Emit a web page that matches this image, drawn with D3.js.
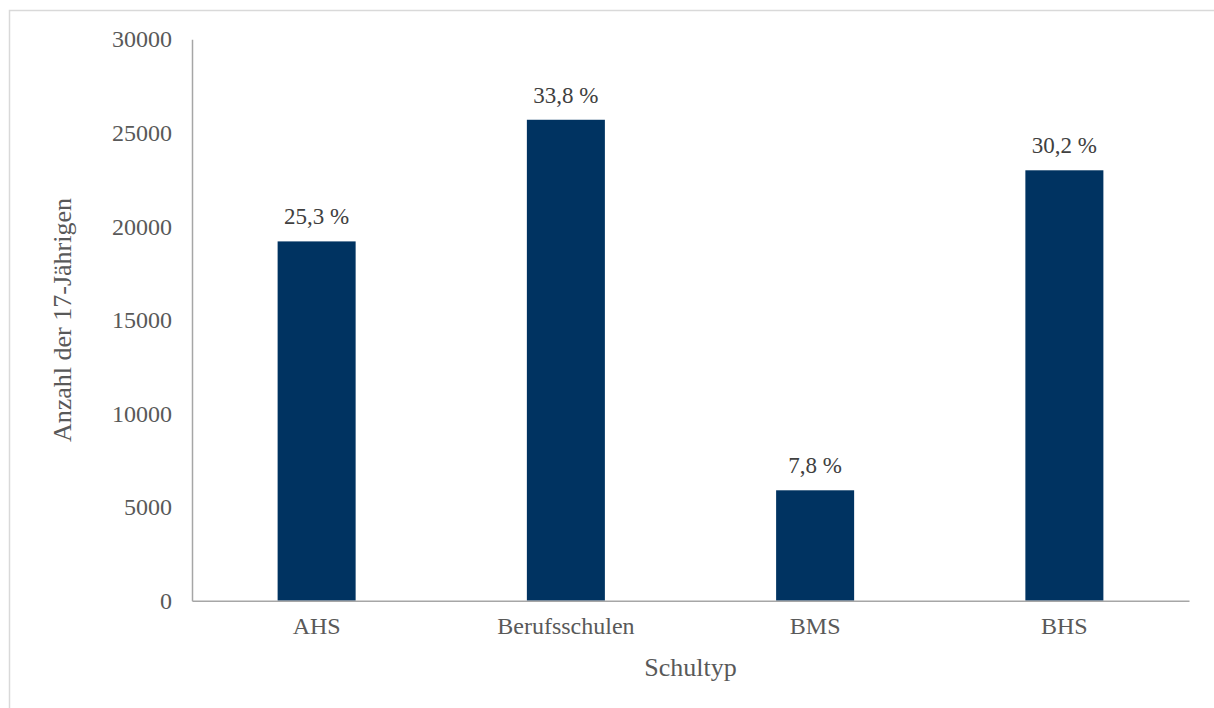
<!DOCTYPE html>
<html>
<head>
<meta charset="utf-8">
<script src="https://cdn.jsdelivr.net/npm/d3@7"></script>
<style>
  body { margin: 0; background: #fff; }
  text { font-family: "Liberation Serif", "Times New Roman", serif; }
</style>
</head>
<body>
<div id="chart"></div>
<script>
// data
var schultypen = ["AHS", "Berufsschulen", "BMS", "BHS"];
var anzahl = [19200, 25700, 5900, 23000];
var anteile = ["25,3 %", "33,8 %", "7,8 %", "30,2 %"];
var yTicks = [0, 5000, 10000, 15000, 20000, 25000, 30000];

var width = 1214,
  height = 708;
var margin = { top: 39.3, right: 25, bottom: 107.3, left: 192 };

var svg = d3
  .select("#chart")
  .append("svg")
  .attr("width", width)
  .attr("height", height);

// chart area border (runs off the bottom / right edge)
svg
  .append("rect")
  .attr("x", 9.5)
  .attr("y", 10.5)
  .attr("width", 1220)
  .attr("height", 720)
  .attr("fill", "none")
  .attr("stroke", "#d9d9d9")
  .attr("stroke-width", 1.5);

var x = d3
  .scaleBand()
  .domain(schultypen)
  .range([margin.left, width - margin.right])
  .paddingInner(0.687)
  .paddingOuter(0.3435);

var y = d3
  .scaleLinear()
  .domain([0, 30000])
  .range([height - margin.bottom, margin.top]);

// y axis
var yAxis = svg
  .append("g")
  .attr("transform", "translate(" + margin.left + ",0)")
  .call(d3.axisLeft(y).tickValues(yTicks).tickSize(0).tickPadding(20).tickFormat(d3.format("d")));
yAxis.select(".domain").attr("stroke", "#a6a6a6").attr("stroke-width", 1.5);
yAxis
  .selectAll(".tick text")
  .attr("fill", "#595959")
  .attr("font-size", "24px")
  .style("font-family", "Liberation Serif");

// bars
svg
  .selectAll("rect.bar")
  .data(schultypen)
  .enter()
  .append("rect")
  .attr("class", "bar")
  .attr("x", function (d) { return x(d); })
  .attr("y", function (d, i) { return y(anzahl[i]); })
  .attr("width", x.bandwidth())
  .attr("height", function (d, i) { return y(0) - y(anzahl[i]); })
  .attr("fill", "#003361");

// x axis
var xAxis = svg
  .append("g")
  .attr("transform", "translate(0," + y(0) + ")")
  .call(d3.axisBottom(x).tickSize(0).tickPadding(16));
xAxis.select(".domain").attr("stroke", "#a6a6a6").attr("stroke-width", 1.5);
xAxis
  .selectAll(".tick text")
  .attr("fill", "#595959")
  .attr("font-size", "24px")
  .style("font-family", "Liberation Serif");

// value labels
svg
  .selectAll("text.wert")
  .data(schultypen)
  .enter()
  .append("text")
  .attr("class", "wert")
  .attr("x", function (d) { return x(d) + x.bandwidth() / 2; })
  .attr("y", function (d, i) { return y(anzahl[i]) - 17; })
  .attr("text-anchor", "middle")
  .attr("font-size", "23px")
  .attr("fill", "#404040")
  .text(function (d, i) { return anteile[i]; });

// axis titles
svg
  .append("text")
  .attr("x", (margin.left + width - margin.right) / 2)
  .attr("y", 676)
  .attr("text-anchor", "middle")
  .attr("font-size", "26px")
  .attr("fill", "#595959")
  .text("Schultyp");

svg
  .append("text")
  .attr("transform", "translate(71," + (height - margin.bottom + margin.top) / 2 + ") rotate(-90)")
  .attr("text-anchor", "middle")
  .attr("font-size", "26px")
  .attr("fill", "#595959")
  .text("Anzahl der 17-Jährigen");
</script>
</body>
</html>
